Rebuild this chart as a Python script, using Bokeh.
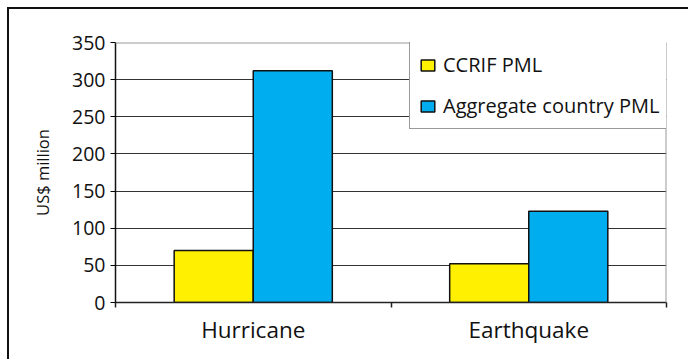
from bokeh.plotting import figure
from bokeh.models import (ColumnDataSource, FixedTicker, Legend, LegendItem,
                          Range1d, Span)
from bokeh.transform import dodge
from bokeh.embed import file_html
from bokeh.resources import INLINE

# Probable maximum loss by peril, US$ million
categories = ["Hurricane", "Earthquake"]
ccrif_pml = [70, 52]
aggregate_pml = [312, 123]
series_names = ["CCRIF PML", "Aggregate country PML"]
y_ticks = [0, 50, 100, 150, 200, 250, 300, 350]

FONT = "Open Sans"
YELLOW = "#FFEF00"
BLUE = "#00AEEF"
TEXT = "#111"

# each category occupies one unit on the x scale, bars centred in it
x_pos = [i + 0.5 for i in range(len(categories))]
source = ColumnDataSource(dict(x=x_pos, ccrif=ccrif_pml, aggregate=aggregate_pml))

p = figure(frame_width=551, frame_height=260,
           min_border_left=106, min_border_top=33,
           min_border_right=22, min_border_bottom=57,
           x_range=Range1d(0, len(categories)), y_range=Range1d(y_ticks[0], y_ticks[-1]),
           output_backend="svg", toolbar_location=None)
p.margin = (7, 0, 0, 7)
p.styles = {"border-top": "2px solid #111", "border-left": "2px solid #111"}
p.outline_line_color = None
p.background_fill_color = "white"
p.border_fill_color = "white"

bar_w = 0.287
r1 = p.vbar(x=dodge("x", -bar_w / 2), top="ccrif", width=bar_w, source=source,
            fill_color=YELLOW, line_color="#111", line_width=1.5)
r2 = p.vbar(x=dodge("x", bar_w / 2), top="aggregate", width=bar_w, source=source,
            fill_color=BLUE, line_color="#111", line_width=1.5)

# y axis
p.yaxis.ticker = FixedTicker(ticks=y_ticks)
p.yaxis.axis_line_color = "#111"
p.yaxis.axis_line_width = 1.5
p.yaxis.major_tick_out = 5
p.yaxis.major_tick_in = 0
p.yaxis.minor_tick_line_color = None
p.yaxis.major_label_standoff = 5
p.yaxis.major_label_text_font = FONT
p.yaxis.major_label_text_font_size = "19.5px"
p.yaxis.major_label_text_color = TEXT
p.yaxis.axis_label = "US$ million"
p.yaxis.axis_label_text_font = FONT
p.yaxis.axis_label_text_font_size = "16.5px"
p.yaxis.axis_label_text_font_style = "normal"
p.yaxis.axis_label_text_color = TEXT
p.yaxis.axis_label_standoff = 15

# x axis: labels in the middle of each category, ticks on the boundaries
p.xaxis.ticker = FixedTicker(ticks=x_pos, minor_ticks=list(range(len(categories) + 1)))
p.xaxis.major_label_overrides = {xv: c for xv, c in zip(x_pos, categories)}
p.xaxis.axis_line_color = "#222"
p.xaxis.axis_line_width = 1.5
p.xaxis.major_tick_out = 0
p.xaxis.major_tick_in = 0
p.xaxis.minor_tick_out = 5
p.xaxis.minor_tick_in = 0
p.xaxis.minor_tick_line_color = "#222"
p.xaxis.minor_tick_line_width = 1.5
p.xaxis.major_label_standoff = 6
p.xaxis.major_label_text_font = FONT
p.xaxis.major_label_text_font_size = "22.5px"
p.xaxis.major_label_text_color = TEXT

# grid
p.xgrid.visible = False
p.ygrid.ticker = FixedTicker(ticks=y_ticks[1:-1])
p.ygrid.grid_line_color = "#333"
p.ygrid.grid_line_width = 1.2

p.add_layout(Span(location=y_ticks[-1], dimension="width", line_color="#999", line_width=2))
p.add_layout(Span(location=len(categories), dimension="height", line_color="#999", line_width=2))

legend = Legend(items=[LegendItem(label=series_names[0], renderers=[r1]),
                       LegendItem(label=series_names[1], renderers=[r2])],
                location=(294, 173), orientation="vertical",
                glyph_width=17, glyph_height=14, label_height=20,
                label_standoff=7, spacing=14, padding=9, margin=0,
                border_line_color="#333", border_line_width=1.3,
                background_fill_color="white", background_fill_alpha=1,
                label_text_font=FONT, label_text_font_size="20px",
                label_text_color=TEXT)
p.add_layout(legend)

open("out.html", "w").write(file_html(p, INLINE))
